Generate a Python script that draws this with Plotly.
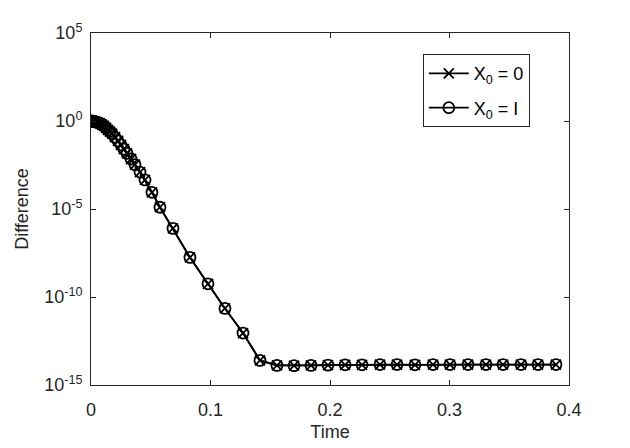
import plotly.graph_objects as go

time = [0.0, 0.00084, 0.00167, 0.0025, 0.0033, 0.0042, 0.0059, 0.0075, 0.0092, 0.0109,
        0.0126, 0.0142, 0.0159, 0.0176, 0.0201, 0.0226, 0.0251, 0.0276, 0.0301, 0.0335,
        0.0368, 0.0410, 0.0452, 0.0510, 0.0577, 0.0686, 0.0828, 0.0979, 0.1121, 0.1272,
        0.1414, 0.1556, 0.1699, 0.1841, 0.1983, 0.2126, 0.2268, 0.2418, 0.2561, 0.2711,
        0.2862, 0.3004, 0.3155, 0.3305, 0.3448, 0.3598, 0.3741, 0.3891]

diff_zero = [1.0, 0.989, 0.966, 0.944, 0.912, 0.871, 0.813, 0.741, 0.631, 0.525,
             0.407, 0.309, 0.251, 0.191, 0.120, 0.0741, 0.0437, 0.0251, 0.0145, 6.92e-3,
             3.31e-3, 1.26e-3, 4.47e-4, 8.9e-5, 1.26e-5, 7.9e-7, 1.78e-8, 5.6e-10, 2.24e-11, 8.9e-13,
             2.5e-14, 1.3e-14, 1.25e-14, 1.3e-14, 1.35e-14, 1.4e-14, 1.4e-14, 1.45e-14, 1.45e-14, 1.4e-14,
             1.45e-14, 1.45e-14, 1.45e-14, 1.45e-14, 1.45e-14, 1.45e-14, 1.45e-14, 1.45e-14]

diff_identity = [1.0, 0.989, 0.966, 0.944, 0.912, 0.871, 0.813, 0.741, 0.631, 0.525,
                 0.407, 0.309, 0.251, 0.191, 0.120, 0.0741, 0.0437, 0.0251, 0.0145, 6.92e-3,
                 3.31e-3, 1.26e-3, 4.47e-4, 8.9e-5, 1.26e-5, 7.9e-7, 1.78e-8, 5.6e-10, 2.24e-11, 8.9e-13,
                 2.5e-14, 1.3e-14, 1.25e-14, 1.3e-14, 1.35e-14, 1.4e-14, 1.4e-14, 1.45e-14, 1.45e-14, 1.4e-14,
                 1.45e-14, 1.45e-14, 1.45e-14, 1.45e-14, 1.45e-14, 1.45e-14, 1.45e-14, 1.45e-14]

ytick_vals = [1e-15, 1e-10, 1e-5, 1e0, 1e5]
ytick_text = ["10<sup>-15</sup>", "10<sup>-10</sup>", "10<sup>-5</sup>", "10<sup>0</sup>", "10<sup>5</sup>"]
xtick_vals = [0, 0.1, 0.2, 0.3, 0.4]
xtick_text = ["0", "0.1", "0.2", "0.3", "0.4"]

FONT = "Liberation Sans, Arial, sans-serif"
AX = "#262626"
FS = 18

fig = go.Figure()
fig.add_trace(go.Scatter(
    x=time, y=diff_zero, mode="lines+markers", name="X<sub>0</sub> = 0",
    legendgroup="a",
    line=dict(color="black", width=1.8),
    marker=dict(symbol="x-thin-open", size=10, color="black", line=dict(color="black", width=1.8)),
))
fig.add_trace(go.Scatter(
    x=time, y=diff_identity, mode="lines+markers", name="X<sub>0</sub> = I",
    legendgroup="b",
    line=dict(color="black", width=1.8),
    marker=dict(symbol="circle-open", size=11, color="black", line=dict(color="black", width=1.8)),
))

axis_common = dict(
    showline=True, linecolor=AX, linewidth=1, mirror="ticks",
    ticks="inside", ticklen=5, tickcolor=AX, tickwidth=1,
    showgrid=False, zeroline=False, automargin=False,
    tickfont=dict(family=FONT, size=FS, color=AX),
)

fig.update_layout(
    width=630, height=448,
    margin=dict(l=91, r=61, t=33, b=63),
    paper_bgcolor="white", plot_bgcolor="white",
    font=dict(family=FONT, size=FS, color=AX),
    showlegend=True,
    legend=dict(
        x=0.918, y=0.94, xanchor="right", yanchor="top",
        bordercolor=AX, borderwidth=1, bgcolor="white",
        font=dict(family=FONT, size=FS, color="black"),
        tracegroupgap=8, itemwidth=40,
    ),
    xaxis=dict(range=[0, 0.4], tickvals=xtick_vals, ticktext=xtick_text,
               ticklabelstandoff=8,
               title=dict(text="Time", font=dict(family=FONT, size=FS, color=AX), standoff=6),
               **axis_common),
    yaxis=dict(type="log", range=[-15, 5], tickvals=ytick_vals, ticktext=ytick_text,
               ticklabelstandoff=4,
               title=dict(text="Difference", font=dict(family=FONT, size=FS, color=AX), standoff=10),
               **axis_common),
)

fig.write_html("out.html")
